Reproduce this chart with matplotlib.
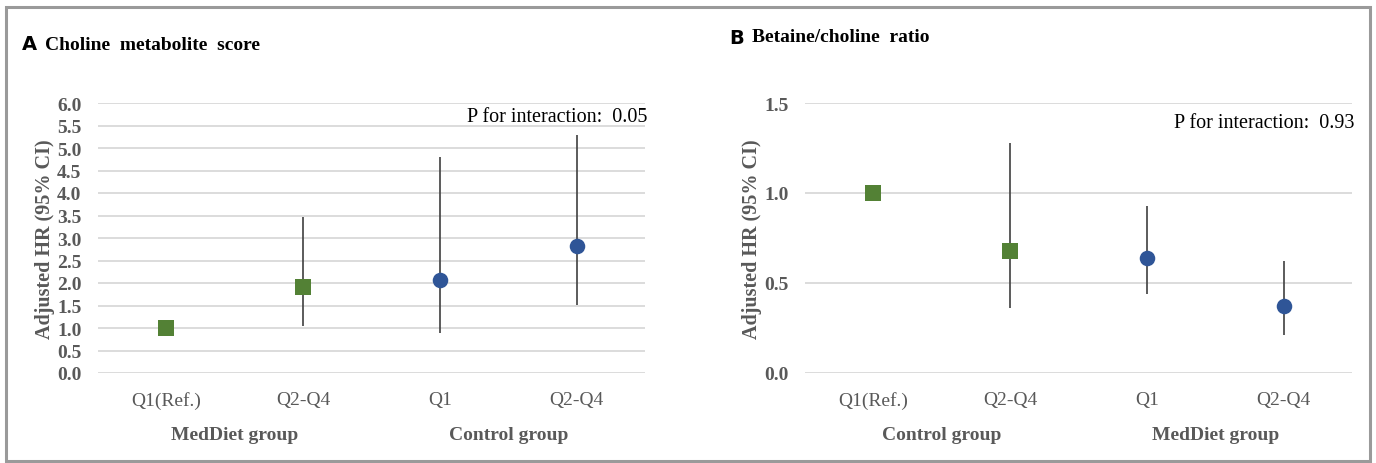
import matplotlib
matplotlib.use("Agg")
import matplotlib.pyplot as plt
from matplotlib.patches import Rectangle
import matplotlib.transforms as mtransforms

# ------- data -------
cats = ["Q1(Ref.)", "Q2-Q4", "Q1", "Q2-Q4"]

a_hr = [1.0, 1.92, 2.06, 2.83]
a_lo = [None, 1.05, 0.89, 1.52]
a_hi = [None, 3.46, 4.79, 5.29]
a_groups = ["MedDiet group", "Control group"]
a_p = "P for interaction:  0.05"

b_hr = [1.0, 0.68, 0.64, 0.37]
b_lo = [None, 0.36, 0.44, 0.21]
b_hi = [None, 1.28, 0.93, 0.62]
b_groups = ["Control group", "MedDiet group"]
b_p = "P for interaction:  0.93"

marker_shapes = ["s", "s", "o", "o"]
marker_colors = ["#538135", "#538135", "#2F5597", "#2F5597"]

W, H = 1376, 464
serif = "Liberation Serif"
grey = "#595959"

fig = plt.figure(figsize=(W / 100, H / 100), dpi=100)
fig.patch.set_facecolor("white")

# grey frame round the whole figure
fig.patches.append(Rectangle((6 / W, 2 / H), 1364 / W, 454 / H, transform=fig.transFigure,
                             fill=False, edgecolor="#9a9a9a", linewidth=2.2))


def panel(left_px, hr, lo, hi, ymax, yticks, groups, ptext, p_y):
    ax = fig.add_axes([left_px / W, (H - 374) / H, 547 / W, 270 / H])
    x = list(range(len(cats)))
    for i in x:
        if lo[i] is not None:
            ax.vlines(i, lo[i], hi[i], color="#404040", linewidth=1.2, zorder=2)
        ax.scatter(i, hr[i], marker=marker_shapes[i], color=marker_colors[i],
                   s=120 if marker_shapes[i] == "s" else 125, zorder=3, linewidths=0)
    ax.set_xlim(-0.5, len(cats) - 0.5)
    ax.set_ylim(0, ymax)
    ax.set_yticks(yticks)
    ax.set_yticklabels(["%.1f" % t for t in yticks], fontfamily=serif,
                       fontweight="bold", fontsize=14, color=grey)
    ax.set_xticks(x)
    ax.set_xticklabels(cats, fontfamily=serif, fontsize=14, color=grey)
    ax.tick_params(length=0, axis="y", pad=12)
    ax.tick_params(length=0, axis="x", pad=13)
    ax.grid(axis="y", color="#d9d9d9", linewidth=1.3)
    ax.set_axisbelow(True)
    for s in ax.spines.values():
        s.set_visible(False)
    ax.set_ylabel("Adjusted HR (95% CI)", fontfamily=serif, fontweight="bold",
                  fontsize=14.5, color=grey, labelpad=1.5)
    trans = mtransforms.blended_transform_factory(ax.transData, fig.transFigure)
    ax.text(0.5, (H - 436) / H, groups[0], transform=trans, ha="center", va="center",
            fontfamily=serif, fontweight="bold", fontsize=14, color=grey)
    ax.text(2.5, (H - 436) / H, groups[1], transform=trans, ha="center", va="center",
            fontfamily=serif, fontweight="bold", fontsize=14, color=grey)
    ax.text(1.005, 1 - (p_y - 104) / 270, ptext, transform=ax.transAxes, ha="right",
            va="center", fontfamily=serif, fontsize=14.5, color="black")
    return ax


panel(98, a_hr, a_lo, a_hi, 6.0, [i * 0.5 for i in range(13)], a_groups, a_p, 118)
panel(805, b_hr, b_lo, b_hi, 1.5, [0.0, 0.5, 1.0, 1.5], b_groups, b_p, 124)

# panel titles
fig.text(22 / W, 1 - 45 / H, "A", fontfamily="DejaVu Sans", fontweight="bold",
         fontsize=14, va="center")
fig.text(45 / W, 1 - 45 / H, "Choline  metabolite  score", fontfamily=serif,
         fontweight="bold", fontsize=14, va="center")
fig.text(729 / W, 1 - 38 / H, "B", fontfamily="DejaVu Sans", fontweight="bold",
         fontsize=14, va="center")
fig.text(752 / W, 1 - 38 / H, "Betaine/choline  ratio", fontfamily=serif,
         fontweight="bold", fontsize=14, va="center")

fig.savefig("out.png", dpi=100)
